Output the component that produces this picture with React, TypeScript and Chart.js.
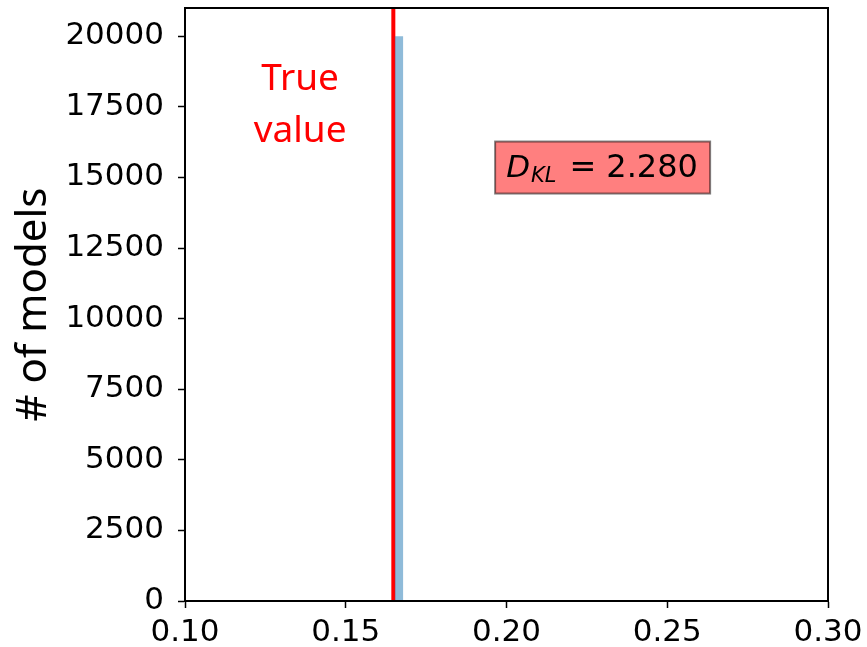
import React, { useEffect, useRef } from "react";
import { Chart, registerables } from "chart.js";

Chart.register(...registerables);

// ---- data ----
const binEdges = [0.1652, 0.1679];
const binCounts = [20000];
const trueValue = 0.1648;
const dklValue = 2.28;
const xTicks = [0.1, 0.15, 0.2, 0.25, 0.3];
const yTicks = [0, 2500, 5000, 7500, 10000, 12500, 15000, 17500, 20000];
const xRange = [0.1, 0.3];
const yRange = [0, 21000];
const trueLabelLines = ["True", "value"];
const trueLabelPos = { x: 0.1358, y: 17550 };
const dklPos = { x: 0.2299, y: 15350 };
const yAxisTitle = "# of models";

const TICK_FONT = "DejaVu Sans";
const LABEL_FONT = "Noto Sans";

export default function App() {
  const ref = useRef<HTMLCanvasElement | null>(null);

  useEffect(() => {
    const canvas = ref.current;
    if (!canvas) return;

    const histPoints: { x: number; y: number }[] = [];
    for (let i = 0; i < binCounts.length; i++) {
      histPoints.push({ x: binEdges[i], y: 0 });
      histPoints.push({ x: binEdges[i], y: binCounts[i] });
      histPoints.push({ x: binEdges[i + 1], y: binCounts[i] });
      histPoints.push({ x: binEdges[i + 1], y: 0 });
    }

    const overlay = {
      id: "overlay",
      afterDatasetsDraw(chart: any) {
        const { ctx, chartArea, scales } = chart;
        const xs = scales.x;
        const ys = scales.y;
        ctx.save();
        // True value text
        ctx.fillStyle = "#ff0000";
        ctx.font = `37px "${LABEL_FONT}"`;
        ctx.textAlign = "center";
        ctx.textBaseline = "middle";
        const cx = xs.getPixelForValue(trueLabelPos.x);
        const cy = ys.getPixelForValue(trueLabelPos.y);
        const lh = 52;
        trueLabelLines.forEach((t, i) => {
          ctx.fillText(t, cx, cy + (i - (trueLabelLines.length - 1) / 2) * lh);
        });

        // D_KL box
        const bx = xs.getPixelForValue(dklPos.x);
        const by = ys.getPixelForValue(dklPos.y);
        const bw = 215;
        const bh = 52;
        ctx.fillStyle = "rgba(255,0,0,0.5)";
        ctx.fillRect(bx - bw / 2, by - bh / 2, bw, bh);
        ctx.strokeStyle = "rgba(0,0,0,0.5)";
        ctx.lineWidth = 2;
        ctx.strokeRect(bx - bw / 2, by - bh / 2, bw, bh);
        ctx.fillStyle = "#000";
        ctx.textAlign = "left";
        ctx.textBaseline = "alphabetic";
        const base = by + 9;
        const x0 = bx - bw / 2 + 11;
        ctx.font = `italic 31px "${TICK_FONT}"`;
        ctx.fillText("D", x0, base);
        const wD = ctx.measureText("D").width;
        ctx.font = `italic 21px "${TICK_FONT}"`;
        ctx.fillText("KL", x0 + wD + 1, base + 5);
        const wKL = ctx.measureText("KL").width;
        ctx.font = `32px "${TICK_FONT}"`;
        const xEq = x0 + wD + 1 + wKL + 13;
        ctx.fillText("=", xEq, base);
        const wEq = ctx.measureText("=").width;
        ctx.fillText(dklValue.toFixed(3), xEq + wEq + 10, base);

        // frame
        ctx.strokeStyle = "#000";
        ctx.lineWidth = 2;
        ctx.strokeRect(
          chartArea.left,
          chartArea.top,
          chartArea.right - chartArea.left,
          chartArea.bottom - chartArea.top
        );
        ctx.restore();
      },
    };

    const chart = new Chart(canvas, {
      type: "line",
      data: {
        datasets: [
          {
            data: histPoints,
            backgroundColor: "rgba(31,119,180,0.5)",
            borderWidth: 0,
            borderColor: "rgba(0,0,0,0)",
            fill: "origin",
            pointRadius: 0,
            tension: 0,
          },
          {
            data: [
              { x: trueValue, y: yRange[0] },
              { x: trueValue, y: yRange[1] },
            ],
            borderColor: "#ff0000",
            borderWidth: 4,
            pointRadius: 0,
            fill: false,
          },
        ],
      },
      options: {
        responsive: false,
        animation: false,
        layout: { padding: { top: 8, right: 39, left: 0, bottom: 0 } },
        plugins: { legend: { display: false }, tooltip: { enabled: false } },
        scales: {
          x: {
            type: "linear",
            min: xRange[0],
            max: xRange[1],
            afterBuildTicks: (s: any) => {
              s.ticks = xTicks.map((v) => ({ value: v }));
            },
            afterFit: (s: any) => {
              s.height = 46;
              s.paddingLeft = 0;
              s.paddingRight = 0;
            },
            grid: {
              drawOnChartArea: false,
              drawTicks: true,
              tickLength: 7,
              tickWidth: 1.5,
              tickColor: "#000",
            },
            border: { display: true, color: "#000", width: 2 },
            ticks: {
              color: "#000",
              font: { family: TICK_FONT, size: 31 },
              padding: 6,
              maxRotation: 0,
              autoSkip: false,
              callback: (v: any) => Number(v).toFixed(2),
            },
          },
          y: {
            type: "linear",
            min: yRange[0],
            max: yRange[1],
            afterBuildTicks: (s: any) => {
              s.ticks = yTicks.map((v) => ({ value: v }));
            },
            afterFit: (s: any) => {
              s.width = 185;
              s.paddingTop = 0;
              s.paddingBottom = 0;
            },
            grid: {
              drawOnChartArea: false,
              drawTicks: true,
              tickLength: 7,
              tickWidth: 1.5,
              tickColor: "#000",
            },
            border: { display: true, color: "#000", width: 2 },
            title: {
              display: true,
              text: yAxisTitle,
              color: "#000",
              font: { family: LABEL_FONT, size: 42 },
              padding: { top: 9, bottom: 0 },
            },
            ticks: {
              color: "#000",
              font: { family: TICK_FONT, size: 31 },
              padding: 14,
              autoSkip: false,
              callback: (v: any) => String(v),
            },
          },
        },
      },
      plugins: [overlay],
    });

    return () => chart.destroy();
  }, []);

  return (
    <div style={{ position: "absolute", left: 0, top: 0, width: 867, height: 647, background: "#fff" }}>
      <canvas ref={ref} width={867} height={647} style={{ display: "block" }} />
    </div>
  );
}
